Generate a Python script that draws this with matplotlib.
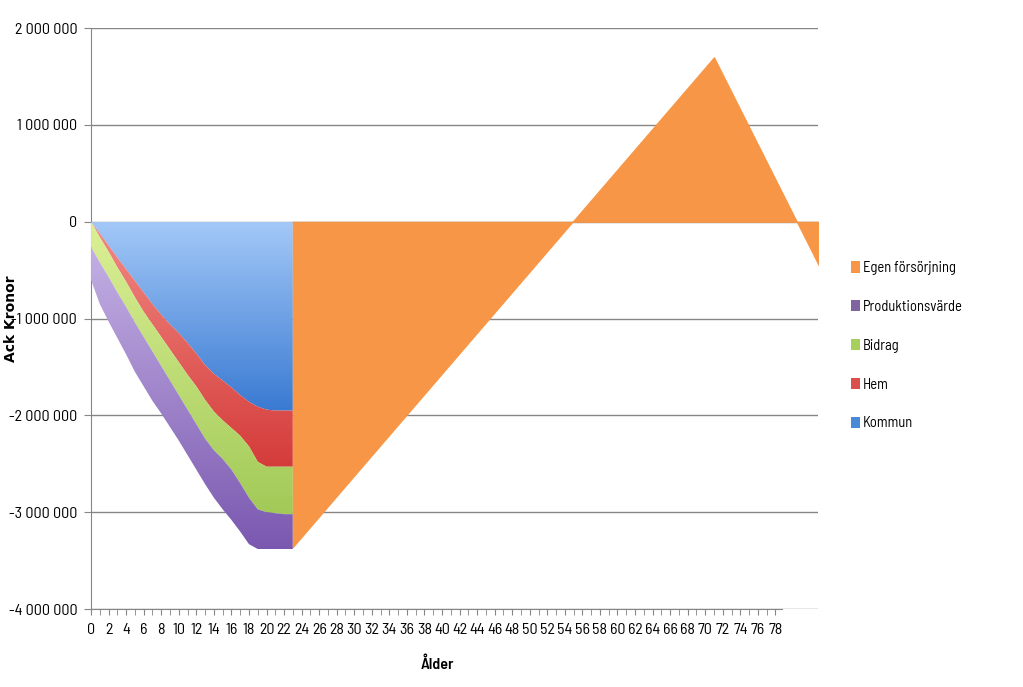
import numpy as np
import matplotlib
matplotlib.use("Agg")
import matplotlib.pyplot as plt
from matplotlib.colors import LinearSegmentedColormap
from matplotlib.patches import Patch
from matplotlib.ticker import FuncFormatter, MultipleLocator

# stacked costs per age (kronor, shown as negative accumulated values)
ages = np.arange(0, 24)
kommun = [0, -120, -245, -370, -490, -610, -730, -850, -960, -1060, -1150, -1250,
          -1360, -1480, -1570, -1640, -1710, -1790, -1860, -1910, -1940, -1950, -1950, -1950]
hem = [0, -40, -65, -100, -130, -170, -200, -210, -230, -260, -300, -330,
       -340, -360, -390, -410, -420, -420, -460, -570, -590, -580, -580, -580]
bidrag = [-260, -260, -260, -260, -260, -260, -260, -280, -300, -320, -340, -360,
          -390, -400, -400, -400, -430, -490, -530, -490, -470, -480, -490, -490]
produktion = [-340, -430, -460, -470, -490, -510, -510, -510, -490, -480, -470, -470,
              -470, -470, -490, -520, -520, -500, -480, -410, -380, -370, -360, -360]

# own support (accumulated), break points
egen_ages = [23, 71, 83]
egen = [-3360, 1700, -460]

xtick_labels = [str(a) for a in range(0, 79, 2)]
legend_labels = ["Egen försörjning", "Produktionsvärde", "Bidrag", "Hem", "Kommun"]

narrow = ["Barlow Semi Condensed", "Archivo Narrow", "DejaVu Sans"]
plt.rcParams["font.family"] = narrow

fig = plt.figure(figsize=(10.23, 6.87), dpi=100)
ax = fig.add_axes([0.089, 0.1135, 0.711, 0.8455])

XMAX = 82.9


def grad_fill(ax, x, y1, y2, c_top, c_bot, z):
    poly = ax.fill_between(x, y1, y2, color="none", lw=0)
    path = poly.get_paths()[0]
    lo = min(np.min(y1), np.min(y2))
    hi = max(np.max(y1), np.max(y2))
    cmap = LinearSegmentedColormap.from_list("g", [c_bot, c_top])
    g = np.linspace(0, 1, 256).reshape(-1, 1)
    im = ax.imshow(g, cmap=cmap, extent=[x.min(), x.max(), lo, hi],
                   origin="lower", aspect="auto", zorder=z, interpolation="bilinear")
    im.set_clip_path(path, ax.transData)


k = np.array(kommun) * 1000.0
h = np.array(hem) * 1000.0
b = np.array(bidrag) * 1000.0
p = np.array(produktion) * 1000.0
l1 = k
l2 = l1 + h
l3 = l2 + b
l4 = l3 + p
zero = np.zeros_like(l1)

grad_fill(ax, ages, zero, l1, "#a3c8f8", "#3a7ad2", 3)
grad_fill(ax, ages, l1, l2, "#f28a84", "#d43c3a", 3)
grad_fill(ax, ages, l2, l3, "#dcf096", "#a2ca58", 3)
grad_fill(ax, ages, l3, l4, "#c4b0e4", "#7a58b0", 3)

ex = np.array(egen_ages, dtype=float)
ey = np.array(egen) * 1000.0
ax.fill_between(ex, 0, ey, facecolor="#f79646", edgecolor="#f79646", lw=0.8, zorder=3)

ax.set_xlim(0, XMAX)
ax.set_ylim(-4000000, 2000000)

ax.yaxis.set_major_locator(MultipleLocator(1000000))
ax.yaxis.set_major_formatter(FuncFormatter(lambda v, pos: f"{int(v):,}".replace(",", " ")))
ax.grid(axis="y", color="#868686", lw=1, zorder=0)
ax.set_axisbelow(True)

ax.set_xticks(range(0, 79, 2))
ax.set_xticklabels(xtick_labels)
ax.set_xticks(range(0, 79), minor=True)
ax.tick_params(axis="x", which="both", length=4, color="#868686", labelsize=11.5, pad=6)
ax.tick_params(axis="y", length=5, color="#868686", labelsize=11.5, pad=5)

for s in ["top", "right"]:
    ax.spines[s].set_visible(False)
for s in ["left", "bottom"]:
    ax.spines[s].set_color("#868686")
ax.spines["bottom"].set_bounds(0, 78.8)

ax.set_ylabel("Ack Kronor", fontsize=10, fontweight="bold", family=["DejaVu Sans"])
ax.yaxis.set_label_coords(-0.1, 0.5)
ax.set_xlabel("Ålder", fontsize=11.5, fontweight="semibold")
ax.xaxis.set_label_coords((437 - 91) / 727.0, -0.082)

colors = ["#f79646", "#8064a2", "#a6cf5c", "#d9504d", "#4a88d8"]
handles = [Patch(facecolor=c, edgecolor="none") for c in colors]
fig.legend(handles, legend_labels, loc="upper left", bbox_to_anchor=(0.819, 0.639),
           frameon=False, fontsize=10.5, handlelength=0.6, handleheight=0.8,
           handletextpad=0.2, labelspacing=1.7)

fig.savefig("out.png", dpi=100)
